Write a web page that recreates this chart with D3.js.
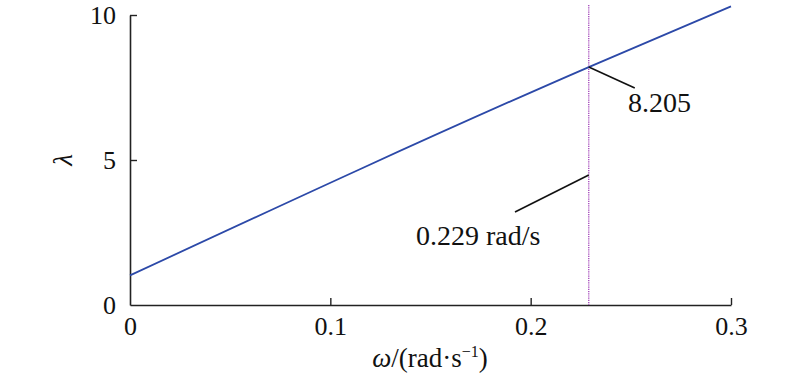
<!DOCTYPE html>
<html>
<head>
<meta charset="utf-8">
<script src="https://cdn.jsdelivr.net/npm/d3@7"></script>
<style>
	body { margin: 0; background: #fff; }
</style>
</head>
<body>
<div id="chart"></div>
<script>
// data
var omega = [0, 0.229, 0.3];
var lambda = [1.02, 8.205, 10.3];
var xTicks = [0, 0.1, 0.2, 0.3];
var yTicks = [0, 5, 10];
var markOmega = 0.229;
var markLambda = 8.205;
var markText = "0.229 rad/s";
var valueText = "8.205";

var serif = "'Liberation Serif', 'Times New Roman', serif";
var width = 800, height = 376;
var svg = d3.select("#chart").append("svg").attr("width", width).attr("height", height)
	.style("font-family", serif);

var x = d3.scaleLinear().domain([0, 0.3]).range([130, 731]);
var y = d3.scaleLinear().domain([0, 10]).range([305, 15]);

// axes, ticks pointing inward
var xAxis = d3.axisBottom(x).tickValues(xTicks).tickSizeInner(-7).tickSizeOuter(0).tickPadding(14)
	.tickFormat(function(d){ return d === 0 ? "0" : d3.format(".1f")(d); });
var yAxis = d3.axisLeft(y).tickValues(yTicks).tickSizeInner(-7).tickSizeOuter(0).tickPadding(14);

var gx = svg.append("g").attr("transform", "translate(0," + y(0) + ")").call(xAxis);
var gy = svg.append("g").attr("transform", "translate(" + x(0) + ",0)").call(yAxis);

[gx, gy].forEach(function(g){
	g.attr("font-family", null);
	g.select(".domain").attr("stroke", "#222").attr("stroke-width", 1.6);
	g.selectAll(".tick line").attr("stroke", "#222").attr("stroke-width", 1.4);
	g.selectAll(".tick text").style("font-family", serif).style("font-size", "26px").attr("fill", "#111");
});
gx.selectAll(".tick text").attr("dy", "0.62em");
gy.selectAll(".tick text").attr("dy", "0.34em");
gy.selectAll(".tick").filter(function(d){ return d === 0; }).select("line").remove();
gx.selectAll(".tick").filter(function(d){ return d === 0; }).select("line").remove();

// vertical marker line
svg.append("line")
	.attr("x1", x(markOmega)).attr("x2", x(markOmega))
	.attr("y1", 5).attr("y2", y(0))
	.attr("stroke", "#a040b8").attr("stroke-width", 1.3)
	.attr("stroke-dasharray", "1.2,1");

// lambda curve
var line = d3.line()
	.x(function(d, i){ return x(omega[i]); })
	.y(function(d){ return y(d); })
	.curve(d3.curveMonotoneX);

svg.append("path")
	.attr("d", line(lambda))
	.attr("fill", "none")
	.attr("stroke", "#2c49a8")
	.attr("stroke-width", 1.8);

// annotations
var px = x(markOmega), py = y(markLambda);
svg.append("line").attr("x1", px).attr("y1", py).attr("x2", px + 46).attr("y2", py + 21)
	.attr("stroke", "#111").attr("stroke-width", 1.6);
svg.append("text").attr("x", 628).attr("y", 112).style("font-size", "28px").attr("fill", "#111").text(valueText);

svg.append("line").attr("x1", px).attr("y1", 175).attr("x2", 515).attr("y2", 212)
	.attr("stroke", "#111").attr("stroke-width", 1.6);
svg.append("text").attr("x", 416).attr("y", 245).style("font-size", "28px").attr("fill", "#111").text(markText);

// axis titles
var xt = svg.append("text").attr("x", 430).attr("y", 367).attr("text-anchor", "middle")
	.style("font-size", "27px").attr("fill", "#111");
xt.append("tspan").style("font-style", "italic").text("ω");
xt.append("tspan").text("/(rad·s");
xt.append("tspan").attr("dy", -10).style("font-size", "16px").text("−1");
xt.append("tspan").attr("dy", 10).text(")");

svg.append("text")
	.attr("transform", "translate(72,160) rotate(-90)")
	.attr("text-anchor", "middle").attr("fill", "#111")
	.style("font-size", "27px").style("font-style", "italic")
	.text("λ");
</script>
</body>
</html>
